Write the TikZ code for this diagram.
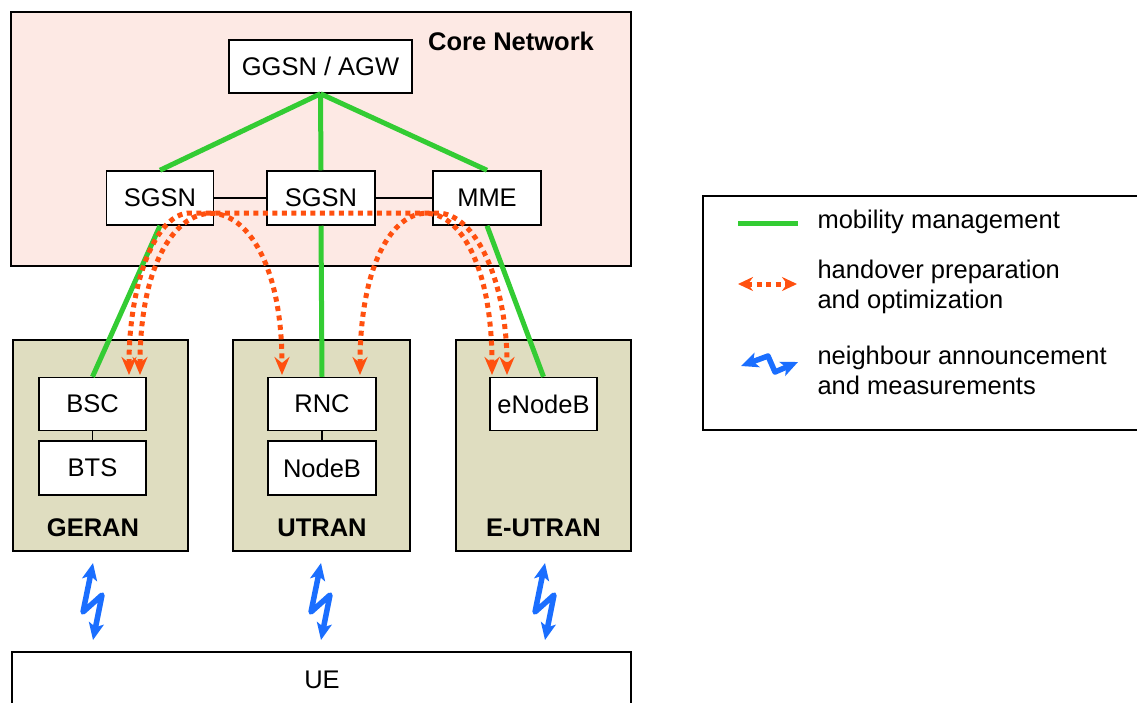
\documentclass[tikz,border=0pt]{standalone}
\usepackage{fontspec}
\setmainfont{Liberation Sans}
\usetikzlibrary{arrows.meta,calc}
\definecolor{corefill}{RGB}{253,233,228}
\definecolor{ranfill}{RGB}{223,221,192}
\definecolor{mmgreen}{RGB}{51,204,51}
\definecolor{hoorange}{RGB}{255,80,15}
\definecolor{nbblue}{RGB}{26,110,255}
\begin{document}
\begin{tikzpicture}[x=1pt,y=-1pt,
  font=\fontsize{25.5}{30}\selectfont,
  area/.style={draw=black,line width=1.5pt,rectangle,inner sep=0pt},
  elem/.style={draw=black,fill=white,line width=1.5pt,rectangle,inner sep=0pt,minimum height=53pt},
  ranlabel/.style={font=\fontsize{25.5}{30}\selectfont\bfseries},
  mm/.style={draw=mmgreen,line width=5pt},
  link/.style={draw=black,line width=1.5pt},
  ho/.style={draw=hoorange,line width=5pt,dash pattern=on 5pt off 4.5pt,
    {Stealth[length=18pt,width=15pt,inset=6pt]}-{Stealth[length=18pt,width=15pt,inset=6pt]}},
  holeg/.style={draw=hoorange,line width=5pt,dash pattern=on 5pt off 4.5pt,
    {Stealth[length=15pt,width=14pt,inset=5pt]}-{Stealth[length=15pt,width=14pt,inset=5pt]}},
  nb/.style={draw=nbblue,line width=5.5pt,line join=round,
    {Stealth[length=17pt,width=15pt,inset=4pt]}-{Stealth[length=17pt,width=15pt,inset=4pt]}},
  bolt/.style={to path={-- ($(\tikztostart)+(-10,49)$) -- ($(\tikztostart)+(9,32)$) -- (\tikztotarget)}}
]
\useasboundingbox (0,0) rectangle (1137,702);
\clip (0,0) rectangle (1137,702);

% areas
\node[area,fill=corefill,minimum width=620pt,minimum height=254pt] (core) at (321,139) {};
\node[font=\fontsize{25.5}{30}\selectfont\bfseries] (corelbl) at (511,41) {Core Network};
\node[area,fill=ranfill,minimum width=175pt,minimum height=211pt] (geran) at (100.5,445.5) {};
\node[area,fill=ranfill,minimum width=177pt,minimum height=211pt] (utran) at (321.5,445.5) {};
\node[area,fill=ranfill,minimum width=175pt,minimum height=211pt] (eutran) at (543.5,445.5) {};
\node[ranlabel] (geranlbl) at (93,528) {GERAN};
\node[ranlabel] (utranlbl) at (322,528) {UTRAN};
\node[ranlabel] (eutranlbl) at (543.5,528) {E-UTRAN};
\node[area,fill=white,minimum width=619pt,minimum height=80pt] (uebox) at (321.5,692) {};
\node (ue) at (322,680) {UE};

% elements
\node[elem,minimum width=183pt] (ggsn) at (320.5,66.5) {GGSN / AGW};
\node[elem,minimum width=107pt,minimum height=54pt] (sgsn1) at (160,198) {SGSN};
\node[elem,minimum width=108pt,minimum height=54pt] (sgsn2) at (321,198) {SGSN};
\node[elem,minimum width=108pt,minimum height=54pt] (mme) at (487,198) {MME};
\node[elem,minimum width=107pt] (bsc) at (92.5,404) {BSC};
\node[elem,minimum width=107pt,minimum height=54pt] (bts) at (92.5,468) {BTS};
\node[elem,minimum width=108pt] (rnc) at (322,404) {RNC};
\node[elem,minimum width=108pt,minimum height=54pt] (nodeb) at (322,468) {NodeB};
\node[elem,minimum width=107pt] (enb) at (543.5,404) {eNodeB};

% black links
\draw[link] (sgsn1.east) -- (sgsn2.west);
\draw[link] (sgsn2.east) -- (mme.west);
\draw[link] (bsc.south) -- (bts.north);
\draw[link] (rnc.south) -- (nodeb.north);

% mobility management
\draw[mm] (ggsn.south) -- (sgsn1.north);
\draw[mm] (ggsn.south) -- (sgsn2.north);
\draw[mm] (ggsn.south) -- (mme.north);
\draw[mm] (sgsn1.south) -- (bsc.north);
\draw[mm] (sgsn2.south) -- (rnc.north);
\draw[mm] (mme.south) -- (enb.north);

% handover arcs
\coordinate (g1) at (129,375);
\coordinate (g2) at (140,375);
\coordinate (u1) at (282,375);
\coordinate (u2) at (360,375);
\coordinate (e1) at (492,375);
\coordinate (e2) at (507,375);
\draw[ho] (g1) .. controls (129,282) and (156,213) .. (190,213) -- (437,213)
  .. controls (476,213) and (507,282) .. (e2);
\draw[ho] (g2) .. controls (140,163) and (282,163) .. (u1);
\draw[ho] (u2) .. controls (360,163) and (492,163) .. (e1);

% neighbour announcement bolts
\coordinate (b1s) at (93,563);  \coordinate (b1e) at (93,640);
\coordinate (b2s) at (321,563); \coordinate (b2e) at (321,640);
\coordinate (b3s) at (545,563); \coordinate (b3e) at (545,640);
\draw[nb,bolt] (b1s) to (b1e);
\draw[nb,bolt] (b2s) to (b2e);
\draw[nb,bolt] (b3s) to (b3e);

% legend
\node[area,fill=white,minimum width=447pt,minimum height=234pt] (legend) at (926.5,313) {};
\coordinate (lg1) at (738,223); \coordinate (lg2) at (798,223);
\draw[mm] (lg1) -- (lg2);
\node[anchor=west] (t1) at (814,222) {mobility management};
\coordinate (lo1) at (738,284); \coordinate (lo2) at (797,284);
\draw[holeg] (lo1) -- (lo2);
\node[anchor=west,align=left] (t2) at (814,287) {handover preparation\\and optimization};
\coordinate (lb1) at (741,366); \coordinate (lb2) at (798,362);
\draw[nb] (lb1) -- (768,356) -- (775,372) -- (lb2);
\node[anchor=west,align=left] (t3) at (814,370) {neighbour announcement\\and measurements};
\end{tikzpicture}
\end{document}
